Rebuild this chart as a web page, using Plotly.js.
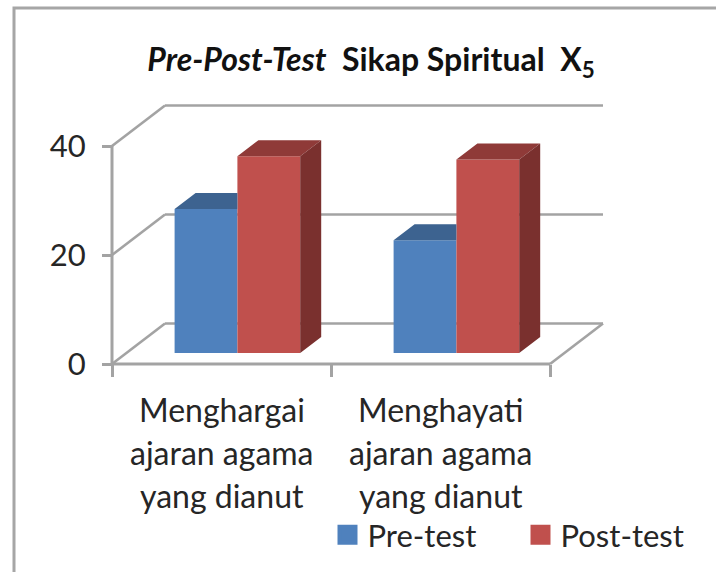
<!DOCTYPE html>
<html>
<head>
<meta charset="utf-8">
<script src="https://cdn.plot.ly/plotly-3.0.1.min.js"></script>
<style>html,body{margin:0;padding:0;background:#fff}#chart{width:716px;height:572px}</style>
</head>
<body>
<div id="chart"></div>
<script>
// Data
const categoryLines = [
  ["Menghargai", "ajaran agama", "yang dianut"],
  ["Menghayati", "ajaran agama", "yang dianut"]
];
const preTest = [26.4, 20.7];
const postTest = [36.1, 35.5];
const seriesNames = ["Pre-test", "Post-test"];
const yTicks = [0, 20, 40];
const xBoundaries = [0, 1, 2];

// Appearance
const FONT = "Lato, Carlito, Calibri, sans-serif";
const TEXT = "#262626";
const GREY = "#a3a3a3";
const BLUE = "#4f81bd", BLUE_TOP = "#3d6390";
const RED = "#c0504d", RED_TOP = "#8f3a38", RED_SIDE = "#7a302e";

// Pixel frame: origin of the chart at (originX, originY), with a small slack round the plot
const W = 716, H = 572;
const originX = 112, originY = 364, slack = 6;
const plotL = originX - slack, plotR = 612, plotT = 100, plotB = originY + slack;
const pxX = 219, pxY = 5.45;            // pixels per category, pixels per unit
const plotW = plotR - plotL, plotH = plotB - plotT;
const paperX = p => (p - plotL) / plotW;
const paperY = p => 1 - (p - plotT) / plotH;

// Pseudo-3D geometry, in data units
const wallDx = 53 / pxX, wallDy = 40.5 / pxY;
const barLift = 11 / pxY;
const depthDx = 21 / pxX, depthDy = 16 / pxY;
const barW = 62.8 / pxX, firstBar = 62.6 / pxX;

const xPre = xBoundaries.slice(0, 2).map(i => i + firstBar);
const xPost = xPre.map(x => x + barW);

const topFaces = (xs, vals, clipW) => {
  const X = [], Y = [];
  xs.forEach((x, i) => {
    const t = vals[i] + barLift;
    const xr = x + barW;
    const backR = clipW ? xr : xr + depthDx;
    X.push(x, xr, backR, x + depthDx, x, null);
    Y.push(t, t, t + depthDy, t + depthDy, t, null);
  });
  return {X, Y};
};
const sideFaces = (xs, vals) => {
  const X = [], Y = [];
  xs.forEach((x, i) => {
    const t = vals[i] + barLift, xr = x + barW;
    X.push(xr, xr + depthDx, xr + depthDx, xr, xr, null);
    Y.push(t, t + depthDy, barLift + depthDy, barLift, t, null);
  });
  return {X, Y};
};
const poly = (o, color) => ({
  type: "scatter", mode: "lines", x: o.X, y: o.Y, fill: "toself",
  fillcolor: color, line: {width: 0, color: color},
  showlegend: false, hoverinfo: "skip"
});
const bars = (xs, vals, color, name) => ({
  type: "bar", x: xs.map(x => x + barW / 2), y: vals,
  base: vals.map(() => barLift), width: vals.map(() => barW),
  marker: {color: color, line: {width: 0}}, name: name, showlegend: false
});
const legendKey = (name, color) => ({
  type: "scatter", mode: "markers", x: [null], y: [null], name: name,
  marker: {symbol: "square", size: 16, color: color, line: {width: 4, color: color}}
});

const data = [
  bars(xPre, preTest, BLUE, seriesNames[0]),
  bars(xPost, postTest, RED, seriesNames[1]),
  poly(topFaces(xPre, preTest, true), BLUE_TOP),
  poly(topFaces(xPost, postTest, false), RED_TOP),
  poly(sideFaces(xPost, postTest), RED_SIDE),
  legendKey(seriesNames[0], BLUE),
  legendKey(seriesNames[1], RED)
];

const wallLine = (x0, y0, x1, y1, w) => ({
  type: "line", xref: "x", yref: "y", layer: "below", x0, y0, x1, y1,
  line: {color: GREY, width: w || 2.6}
});
const shapes = [];
yTicks.forEach(v => {
  shapes.push(wallLine(0, v, wallDx, v + wallDy));
  shapes.push(wallLine(wallDx, v + wallDy, xBoundaries[2] + wallDx, v + wallDy));
});
shapes.push(wallLine(xBoundaries[2], 0, xBoundaries[2] + wallDx, wallDy));
// Front axis lines
shapes.push(wallLine(0, 0, 0, yTicks[yTicks.length - 1], 3));
shapes.push(wallLine(0, 0, xBoundaries[2], 0, 3));
// Outer frame, running off the right and bottom of the image
shapes.push({
  type: "rect", xref: "paper", yref: "paper", layer: "below",
  x0: paperX(14), x1: paperX(W + 20), y0: paperY(8), y1: paperY(H + 20),
  line: {color: "#a6a6a6", width: 3}, fillcolor: "rgba(0,0,0,0)"
});

const lineY = [409, 452, 495];
const annotations = [];
categoryLines.forEach((lines, i) => {
  lines.forEach((text, j) => annotations.push({
    text: text, xref: "x", x: xBoundaries[i] + 0.5, yref: "paper", y: paperY(lineY[j]),
    xanchor: "center", yanchor: "middle", showarrow: false,
    font: {family: FONT, size: 32, color: TEXT}
  }));
});

const layout = {
  width: W, height: H,
  margin: {l: plotL, r: W - plotR, t: plotT, b: H - plotB, pad: 0},
  paper_bgcolor: "#fff", plot_bgcolor: "rgba(0,0,0,0)",
  font: {family: FONT, color: TEXT},
  barmode: "overlay",
  title: {
    text: "<b><i>Pre-Post-Test</i>\u00a0\u00a0Sikap Spiritual\u00a0\u00a0X<sub>5</sub></b>",
    font: {family: FONT, size: 32, color: "#111"},
    x: 371 / W, xanchor: "center", y: 1 - 60 / H, yanchor: "middle"
  },
  xaxis: {
    range: [-slack / pxX, (plotR - originX) / pxX], tickmode: "array", tickvals: xBoundaries,
    anchor: "free", position: paperY(originY),
    showticklabels: false, ticks: "outside", ticklen: 12, tickwidth: 3, tickcolor: GREY,
    showgrid: false, zeroline: false, showline: false
  },
  yaxis: {
    range: [-slack / pxY, (originY - plotT) / pxY], tickmode: "array", tickvals: yTicks,
    anchor: "free", position: paperX(originX),
    ticks: "outside", ticklen: 10, tickwidth: 3, tickcolor: GREY, ticklabelstandoff: 10,
    tickfont: {family: FONT, size: 31, color: TEXT},
    showgrid: false, zeroline: false, showline: false
  },
  showlegend: true,
  legend: {
    orientation: "h", xref: "container", yref: "container",
    x: 327.5 / W, xanchor: "left", y: 1 - 535 / H, yanchor: "middle",
    entrywidth: 148, entrywidthmode: "pixels", bgcolor: "rgba(0,0,0,0)",
    font: {family: FONT, size: 31, color: TEXT}, traceorder: "normal"
  },
  shapes: shapes,
  annotations: annotations
};

Plotly.newPlot("chart", data, layout, {displayModeBar: false, responsive: false});
</script>
</body>
</html>
